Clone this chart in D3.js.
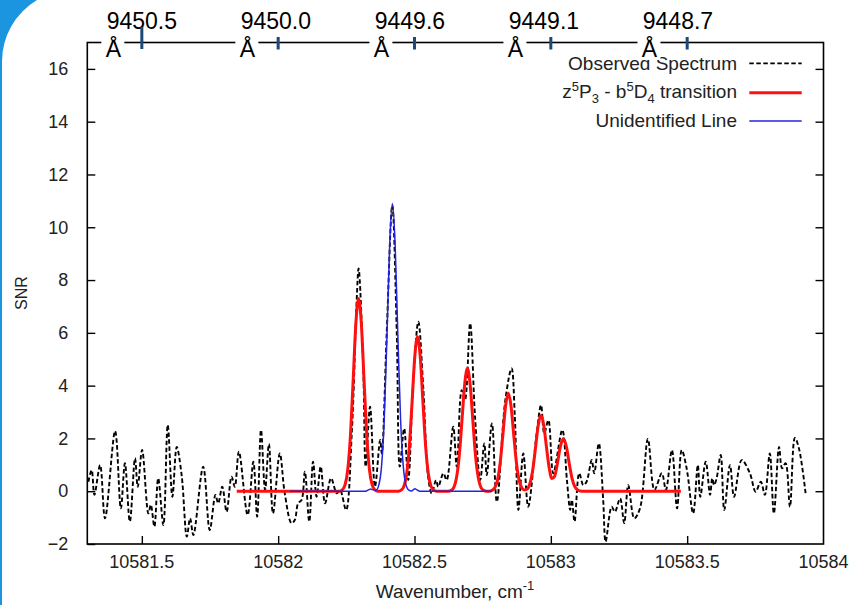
<!DOCTYPE html>
<html><head><meta charset="utf-8">
<script src="https://cdn.jsdelivr.net/npm/d3@7"></script>
<style>
html,body{margin:0;padding:0;background:#fff;}
svg{display:block;font-family:"Liberation Sans",Arial,Helvetica,sans-serif;}
</style></head>
<body>
<svg id="chart" width="854" height="605"></svg>
<script>
// ---------------- data ----------------
const xTicks = [10581.5, 10582, 10582.5, 10583, 10583.5, 10584];
const xTickLabels = ["10581.5", "10582", "10582.5", "10583", "10583.5", "10584"];
const yTicks = [-2, 0, 2, 4, 6, 8, 10, 12, 14, 16];
const topWn = [10581.5, 10582, 10582.5, 10583, 10583.5];
const topLabels = ["9450.5", "9450.0", "9449.6", "9449.1", "9448.7"];
const seriesNames = ["Observed Spectrum", "transition", "Unidentified Line"];

// Observed spectrum (wavenumber, SNR)
const obsWn = [10581.304,10581.316,10581.326,10581.347,10581.365,10581.402,10581.423,10581.438,10581.456,10581.475,
10581.485,10581.501,10581.524,10581.533,10581.546,10581.560,10581.579,10581.595,10581.612,10581.628,
10581.646,10581.665,10581.677,10581.689,10581.725,10581.749,10581.770,10581.780,10581.795,10581.811,
10581.829,10581.841,10581.856,10581.888,10581.909,10581.923,10581.937,10581.952,10581.966,10581.981,
10582.006,10582.024,10582.049,10582.061,10582.073,10582.086,10582.098,10582.114,10582.128,10582.141,
10582.156,10582.172,10582.194,10582.215,10582.227,10582.249,10582.270,10582.288,10582.295,10582.312,
10582.321,10582.337,10582.355,10582.374,10582.380,10582.398,10582.4185,10582.435,10582.446,10582.462,
10582.477,10582.495,10582.514,10582.532,10582.550,10582.563,10582.579,10582.587,10582.606,10582.618,
10582.642,10582.655,10582.673,10582.685,10582.704,10582.722,10582.741,10582.756,10582.765,10582.784,
10582.802,10582.833,10582.856,10582.868,10582.881,10582.899,10582.917,10582.948,10582.964,10582.976,
10582.991,10583.009,10583.042,10583.059,10583.071,10583.077,10583.087,10583.104,10583.119,10583.131,
10583.150,10583.159,10583.176,10583.192,10583.201,10583.223,10583.235,10583.254,10583.269,10583.284,
10583.306,10583.327,10583.356,10583.380,10583.407,10583.422,10583.444,10583.463,10583.480,10583.498,
10583.522,10583.539,10583.548,10583.568,10583.584,10583.592,10583.599,10583.608,10583.623,10583.636,
10583.657,10583.672,10583.700,10583.730,10583.751,10583.770,10583.785,10583.803,10583.818,10583.837,
10583.848,10583.861,10583.877,10583.895,10583.910,10583.935];
const obsSnr = [0.36,0.80,-0.14,0.99,-1.03,2.28,-0.65,1.06,-1.15,1.25,
0.17,1.56,-0.84,-0.52,-1.34,0.49,-1.28,2.51,-0.21,1.68,
0.61,-1.72,-1.03,-1.66,0.93,-1.47,-0.14,-0.46,0.17,-0.78,
0.55,0.17,1.50,-0.90,1.12,-0.97,2.32,0.05,1.79,-0.84,
1.43,-0.07,-1.21,-1.09,-0.46,-0.33,0.74,-1.15,1.12,-0.21,
0.93,-0.46,0.49,-0.08,0.05,-0.71,2.19,7.24,8.44,4.71,
0.93,3.20,0.17,1.94,1.43,5.98,10.83,5.98,0.93,2.38,
0.42,4.08,6.42,3.96,0.55,-0.08,0.42,0.17,0.68,0.42,
2.44,0.93,3.83,3.45,6.36,2.82,0.42,1.81,0.61,2.57,
-0.40,3.45,4.65,2.82,-0.71,1.43,-0.59,2.19,3.26,2.19,
2.69,0.68,2.32,0.42,-0.71,-0.33,-1.15,0.68,0.23,0.36,
1.18,0.68,1.81,-0.33,-1.91,-0.59,-0.78,-0.27,-1.21,0.23,
-1.03,-0.65,1.98,0.05,0.68,0.05,1.56,-0.65,1.56,0.87,
-0.84,0.99,-0.21,1.12,-0.14,0.49,0.23,0.49,1.37,-0.71,
0.99,-0.21,1.18,0.68,-0.02,0.36,-0.14,1.43,-0.84,1.68,
0.87,1.06,-0.59,2.02,1.62,-0.14];

// z5P3 - b5D4 transition model (wavenumber, SNR)
const redWn = [10581.848,10582.225,10582.235,10582.245,10582.255,10582.265,10582.275,10582.285,10582.295,10582.305,
10582.315,10582.325,10582.335,10582.345,10582.355,10582.365,10582.441,10582.451,10582.461,10582.471,
10582.481,10582.491,10582.501,10582.511,10582.521,10582.531,10582.541,10582.551,10582.561,10582.571,
10582.581,10582.624,10582.634,10582.644,10582.654,10582.664,10582.674,10582.684,10582.694,10582.704,
10582.714,10582.724,10582.734,10582.744,10582.754,10582.764,10582.774,10582.784,10582.794,10582.804,
10582.814,10582.824,10582.834,10582.844,10582.854,10582.864,10582.874,10582.884,10582.894,10582.904,
10582.914,10582.924,10582.934,10582.944,10582.954,10582.964,10582.974,10582.984,10582.994,10583.004,
10583.014,10583.024,10583.034,10583.046,10583.058,10583.068,10583.078,10583.088,10583.098,10583.108,
10583.118,10583.477];
const redSnr = [0,0,0.05,0.23,0.80,2.10,4.20,6.36,7.30,6.36,
4.20,2.10,0.80,0.23,0.05,0,0,0.04,0.18,0.64,
1.68,3.36,5.10,5.85,5.10,3.36,1.68,0.64,0.18,0.04,
0,0,0.03,0.14,0.51,1.33,2.67,4.05,4.65,4.05,
2.67,1.33,0.51,0.14,0.03,0,0,0.03,0.12,0.40,
1.06,2.13,3.23,3.71,3.23,2.13,1.06,0.40,0.12,0.05,
0.09,0.31,0.83,1.66,2.51,2.88,2.51,1.67,0.88,0.48,
0.57,1.04,1.64,2.00,1.64,1.02,0.48,0.17,0.05,0.01,
0,0];

// Unidentified line model (wavenumber, SNR)
const blueWn = [10582.043,10582.320,10582.333,10582.339,10582.345,10582.359,10582.369,10582.379,10582.389,10582.399,
10582.409,10582.419,10582.429,10582.439,10582.449,10582.459,10582.469,10582.479,10582.490,10582.496,
10582.502,10582.508,10582.520,10582.783];
const blueSnr = [0,0,0.06,0.08,0.06,0.04,0.23,0.93,2.71,5.88,
9.34,10.9,9.34,5.88,2.71,0.93,0.23,0.04,0.01,0.06,
0.09,0.06,0,0];

// ---------------- drawing ----------------
const svg = d3.select("#chart");
const W = 854, H = 605;
const L = 87.3, R = 823.5, T = 42.5, B = 544;
const x = d3.scaleLinear().domain([10581.3, 10584]).range([L, R]);
const y = d3.scaleLinear().domain([-2, 17]).range([B, T]);
const txt = "#222";

svg.append("rect").attr("width", W).attr("height", H).attr("fill", "#fff");

// blue slide border at the left
svg.append("path")
  .attr("d", "M0,0 L37,0 A72,72 0 0 0 2,62 L2,605 L0,605 Z")
  .attr("fill", "#1b95e0");

const clip = svg.append("defs").append("clipPath").attr("id", "plotclip");
clip.append("rect").attr("x", L).attr("y", T).attr("width", R - L).attr("height", B - T);

// axes (inward ticks, mirrored)
const gy = svg.append("g").attr("transform", `translate(${L},0)`)
  .call(d3.axisLeft(y).tickValues(yTicks).tickSize(-8).tickPadding(19).tickFormat(d3.format("d")));
const gyr = svg.append("g").attr("transform", `translate(${R},0)`)
  .call(d3.axisRight(y).tickValues(yTicks.filter(v => v > -2)).tickSize(-8).tickFormat(""));
const gx = svg.append("g").attr("transform", `translate(0,${B})`)
  .call(d3.axisBottom(x).tickValues(xTicks.filter(v => v < 10584)).tickSize(-8).tickFormat(""));
[gy, gyr, gx].forEach(g => {
  g.select(".domain").remove();
  g.selectAll(".tick line").attr("stroke", "#000").attr("stroke-width", 1.4);
});
gy.selectAll(".tick text").attr("font-size", 18).attr("fill", txt).attr("font-family", "Liberation Sans, Arial, sans-serif");

// bottom tick labels
svg.append("g").selectAll("text").data(xTicks).join("text")
  .attr("x", d => x(d)).attr("y", 568)
  .attr("text-anchor", "middle").attr("font-size", 18).attr("fill", txt)
  .text((d, i) => xTickLabels[i]);

// frame
svg.append("rect").attr("x", L).attr("y", T).attr("width", R - L).attr("height", B - T)
  .attr("fill", "none").attr("stroke", "#000").attr("stroke-width", 1.6);

// series
const plot = svg.append("g").attr("clip-path", "url(#plotclip)");
const obsLine = d3.line().x((d, i) => x(obsWn[i])).y(d => y(d)).curve(d3.curveCatmullRom.alpha(0.5));
const modelLine = (wn) => d3.line().x((d, i) => x(wn[i])).y(d => y(d)).curve(d3.curveMonotoneX);

plot.append("path").attr("d", obsLine(obsSnr))
  .attr("fill", "none").attr("stroke", "#000").attr("stroke-width", 1.9).attr("stroke-dasharray", "4.5,2.5");
plot.append("path").attr("d", modelLine(redWn)(redSnr))
  .attr("fill", "none").attr("stroke", "#ff1010").attr("stroke-width", 3).attr("stroke-linejoin", "round");
plot.append("path").attr("d", modelLine(blueWn)(blueSnr))
  .attr("fill", "none").attr("stroke", "#2424e0").attr("stroke-width", 1.5).attr("stroke-linejoin", "round");

// axis titles
svg.append("text").attr("transform", "translate(27,293) rotate(-90)")
  .attr("text-anchor", "middle").attr("font-size", 16).attr("fill", txt).text("SNR");
const xt = svg.append("text").attr("x", 455).attr("y", 598).attr("text-anchor", "middle")
  .attr("font-size", 19).attr("fill", txt);
xt.append("tspan").text("Wavenumber, cm");
xt.append("tspan").attr("dy", -8).attr("font-size", 13).text("-1");

// legend
const legX = 737, legL1 = 749.3, legL2 = 801.7;
const legRows = [70, 98.3, 126.7];
svg.append("text").attr("x", legX).attr("y", legRows[0]).attr("text-anchor", "end")
  .attr("font-size", 19).attr("fill", txt).text(seriesNames[0]);
const t2 = svg.append("text").attr("x", legX).attr("y", legRows[1]).attr("text-anchor", "end")
  .attr("font-size", 19).attr("fill", txt);
t2.append("tspan").text("z");
t2.append("tspan").attr("dy", -7).attr("font-size", 13).text("5");
t2.append("tspan").attr("dy", 7).text("P");
t2.append("tspan").attr("dy", 5).attr("font-size", 13).text("3");
t2.append("tspan").attr("dy", -5).text(" - b");
t2.append("tspan").attr("dy", -7).attr("font-size", 13).text("5");
t2.append("tspan").attr("dy", 7).text("D");
t2.append("tspan").attr("dy", 5).attr("font-size", 13).text("4");
t2.append("tspan").attr("dy", -5).text(" " + seriesNames[1]);
svg.append("text").attr("x", legX).attr("y", legRows[2]).attr("text-anchor", "end")
  .attr("font-size", 19).attr("fill", txt).text(seriesNames[2]);
svg.append("line").attr("x1", legL1).attr("x2", legL2).attr("y1", legRows[0] - 6.7).attr("y2", legRows[0] - 6.7)
  .attr("stroke", "#000").attr("stroke-width", 1.8).attr("stroke-dasharray", "4.5,2.5");
svg.append("line").attr("x1", legL1).attr("x2", legL2).attr("y1", legRows[1] - 5.6).attr("y2", legRows[1] - 5.6)
  .attr("stroke", "#ff1010").attr("stroke-width", 3);
svg.append("line").attr("x1", legL1).attr("x2", legL2).attr("y1", legRows[2] - 5.7).attr("y2", legRows[2] - 5.7)
  .attr("stroke", "#2424e0").attr("stroke-width", 1.5);

// top wavelength axis (annotation)
const topG = svg.append("g");
topG.selectAll("text.wl").data(topWn).join("text").attr("class", "wl")
  .attr("x", (d, i) => x(d) - 2.3 * i).attr("y", 28.5)
  .attr("text-anchor", "middle").attr("font-size", 23).attr("fill", "#000")
  .text((d, i) => topLabels[i]);
const ang = topG.selectAll("g.ang").data(topWn).join("g").attr("class", "ang")
  .attr("transform", (d, i) => `translate(${x(d) - 2.3 * i - 28.5},0)`);
ang.append("rect").attr("x", -12).attr("y", 35).attr("width", 23).attr("height", 25).attr("fill", "#fff");
ang.append("text").attr("x", 0).attr("y", 56.5).attr("text-anchor", "middle")
  .attr("font-size", 23).attr("fill", "#000").text("Å");
topG.selectAll("rect.tk").data(topWn).join("rect").attr("class", "tk")
  .attr("x", d => x(d) - 1.5).attr("y", (d, i) => i === 0 ? 27 : 37)
  .attr("width", 3).attr("height", (d, i) => i === 0 ? 22 : 12.5)
  .attr("fill", "#1c4a78");
</script>
</body></html>
